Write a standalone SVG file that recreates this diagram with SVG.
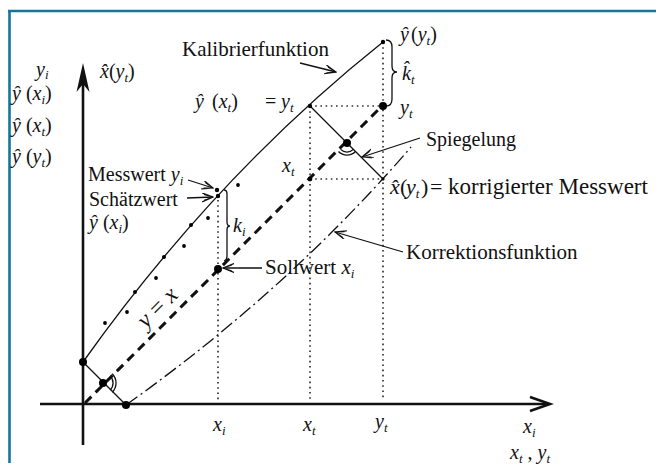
<svg xmlns="http://www.w3.org/2000/svg" width="656" height="473" viewBox="0 0 656 473">
<defs>
<style>
.t{font-family:"Liberation Serif","Times New Roman",serif;font-size:20px;fill:#111}
.m{font-style:italic}
.s{font-size:13px;font-style:italic}
.ax{stroke:#111;stroke-width:2.6;fill:none}
.thin{stroke:#111;stroke-width:1.3;fill:none}
.dot{stroke:#333;stroke-width:1.7;stroke-dasharray:1.6 3.6;fill:none}
.dash{stroke:#111;stroke-width:3;stroke-dasharray:9 6;fill:none}
.dd{stroke:#111;stroke-width:1.3;stroke-dasharray:14 4 2 4;fill:none}
.ann{stroke:#111;stroke-width:1.3;fill:none;marker-end:url(#ah)}
.big{fill:#000}
.sm{fill:#000}
</style>
<marker id="ah" markerWidth="12" markerHeight="10" refX="11" refY="4.5" orient="auto" markerUnits="userSpaceOnUse">
<path d="M0,0 L11,4.5 L0,9 M2,1.5 L11,4.5 L2,7.5" fill="none" stroke="#111" stroke-width="1.2"/>
</marker>
</defs>
<rect width="656" height="473" fill="#fff"/>
<g id="frame">
<line x1="9.5" y1="11" x2="9.5" y2="463" stroke="#13769a" stroke-width="2.6"/>
<line x1="8" y1="11" x2="656" y2="11" stroke="#13769a" stroke-width="2.6"/>
</g>
<g id="axes">
<line class="ax" x1="83" y1="445" x2="83" y2="80"/>
<path d="M83,63 L89.5,92 L83,84 L76.5,92 Z" fill="#111"/>
<line class="ax" x1="40" y1="404" x2="548" y2="404"/>
<polyline class="ax" points="530,397 550,404 530,411"/>
</g>
<g id="connectors">
<line class="dot" x1="218" y1="200" x2="218" y2="400"/>
<line class="dot" x1="310" y1="106" x2="310" y2="400"/>
<line class="dot" x1="383" y1="42" x2="383" y2="400"/>
<line class="dot" x1="310" y1="106" x2="383" y2="106"/>
<line class="dot" x1="310" y1="179" x2="383" y2="179"/>
<line class="dash" x1="85" y1="403" x2="383" y2="105"/>
<path id="kalibrier" class="thin" d="M83,362 Q216,175 383,42"/>
<path id="korrektion" class="dd" d="M126,405 Q289,289 411,147"/>
<line class="thin" x1="83" y1="362" x2="126" y2="405"/>
<line class="thin" x1="310" y1="106" x2="383" y2="179"/>
<path class="thin" d="M353.4,149.4 A9,9 0 0 1 340.6,149.4 M355.5,151.5 A12,12 0 0 1 338.5,151.5"/>
<path class="thin" d="M110.1,375.9 A10,10 0 0 1 110.1,390.1 M112.2,373.8 A13,13 0 0 1 112.2,392.2"/>
<path class="thin" d="M386,40 Q392,40 392,47 L392,66 Q392,72 397,72 Q392,72 392,78 L392,99 Q392,106 386,106"/>
<path class="thin" d="M224,190 Q227,190 227,194 L227,222 Q227,226 230,226 Q227,226 227,230 L227,256 Q227,260 224,261"/>
<line class="ann" x1="300" y1="63" x2="336" y2="72"/>
<line class="ann" x1="188" y1="180" x2="213" y2="188"/>
<line class="ann" x1="187" y1="198" x2="213" y2="197"/>
<line class="ann" x1="262" y1="268" x2="223" y2="268"/>
<line class="ann" x1="420" y1="138" x2="362" y2="157"/>
<line class="ann" x1="403" y1="252" x2="335" y2="232"/>
</g>
<g id="points">
<circle class="big" cx="83" cy="362" r="4"/>
<circle class="big" cx="103" cy="383" r="4"/>
<circle class="big" cx="126" cy="405" r="4"/>
<circle class="big" cx="218" cy="269" r="4"/>
<circle class="big" cx="347" cy="143" r="4"/>
<circle class="big" cx="383" cy="106" r="4"/>
<circle class="sm" cx="310" cy="106" r="2.2"/>
<circle class="sm" cx="383" cy="42" r="2.2"/>
<circle class="sm" cx="310" cy="179" r="2.4"/>
<circle class="sm" cx="383" cy="179" r="1.6"/>
<circle class="sm" cx="217" cy="190" r="2.2"/>
<circle class="sm" cx="218" cy="196" r="2.2"/>
<circle class="sm" cx="105" cy="323" r="1.9"/>
<circle class="sm" cx="127" cy="312" r="1.9"/>
<circle class="sm" cx="135" cy="292" r="2"/>
<circle class="sm" cx="156" cy="278" r="1.9"/>
<circle class="sm" cx="164" cy="257" r="2"/>
<circle class="sm" cx="184" cy="246" r="1.9"/>
<circle class="sm" cx="191" cy="225" r="2"/>
<circle class="sm" cx="208" cy="218" r="1.9"/>
<circle class="sm" cx="238" cy="185" r="1.9"/>
</g>
<g id="labels">
<text class="t m" x="36" y="76">y<tspan class="s" dy="3">i</tspan></text>
<text class="t" x="12" y="100"><tspan class="m">ŷ</tspan> (<tspan class="m">x</tspan><tspan class="s" dy="4">i</tspan><tspan dy="-4">)</tspan></text>
<text class="t" x="12" y="132"><tspan class="m">ŷ</tspan> (<tspan class="m">x</tspan><tspan class="s" dy="4">t</tspan><tspan dy="-4">)</tspan></text>
<text class="t" x="12" y="163"><tspan class="m">ŷ</tspan> (<tspan class="m">y</tspan><tspan class="s" dy="4">t</tspan><tspan dy="-4">)</tspan></text>
<text class="t" x="100" y="78"><tspan class="m">x̂</tspan>(<tspan class="m">y</tspan><tspan class="s" dy="4">t</tspan><tspan dy="-4">)</tspan></text>
<text class="t" x="182" y="56" style="font-size:21px">Kalibrierfunktion</text>
<text class="t" x="195" y="108"><tspan class="m">ŷ</tspan><tspan x="212">(</tspan><tspan class="m">x</tspan><tspan class="s" dy="4">t</tspan><tspan dy="-4">)</tspan><tspan x="265">=</tspan><tspan class="m" x="281">y</tspan><tspan class="s" dy="4">t</tspan></text>
<text class="t" x="400" y="41"><tspan class="m">ŷ</tspan><tspan x="411">(</tspan><tspan class="m">y</tspan><tspan class="s" dy="4">t</tspan><tspan dy="-4">)</tspan></text>
<text class="t" x="402" y="80"><tspan class="m">k̂</tspan><tspan class="s" dy="4">t</tspan></text>
<text class="t m" x="400" y="114">y<tspan class="s" dy="4">t</tspan></text>
<text class="t" x="426" y="146">Spiegelung</text>
<text class="t" x="390" y="194" style="font-size:22px"><tspan class="m">x̂</tspan><tspan x="400">(</tspan><tspan class="m" x="406">y</tspan><tspan class="s" dy="4">t</tspan><tspan dy="-4" x="421">)</tspan><tspan x="430">=</tspan><tspan x="448" style="font-size:23px">korrigierter Messwert</tspan></text>
<text class="t m" x="282" y="172">x<tspan class="s" dy="4">t</tspan></text>
<text class="t" x="88" y="181">Messwert <tspan class="m">y</tspan><tspan class="s" dy="4">i</tspan></text>
<text class="t" x="89" y="206">Schätzwert</text>
<text class="t" x="89" y="229"><tspan class="m">ŷ</tspan> (<tspan class="m">x</tspan><tspan class="s" dy="4">i</tspan><tspan dy="-4">)</tspan></text>
<text class="t m" x="233" y="232">k<tspan class="s" dy="4">i</tspan></text>
<text class="t" x="265" y="274" style="font-size:21px">Sollwert <tspan class="m">x</tspan><tspan class="s" dy="4">i</tspan></text>
<text class="t" x="406" y="259" style="font-size:21px">Korrektionsfunktion</text>
<text class="t" transform="translate(157,307) rotate(-45)" text-anchor="middle" y="8" style="font-size:24px"><tspan class="m">y</tspan> = <tspan class="m">x</tspan></text>
<text class="t m" x="213" y="431">x<tspan class="s" dy="4">i</tspan></text>
<text class="t m" x="303" y="431">x<tspan class="s" dy="4">t</tspan></text>
<text class="t m" x="375" y="428">y<tspan class="s" dy="4">t</tspan></text>
<text class="t m" x="523" y="433">x<tspan class="s" dy="4">i</tspan></text>
<text class="t" x="510" y="459"><tspan class="m">x</tspan><tspan class="s" dy="4">t</tspan><tspan dy="-4"> , </tspan><tspan class="m">y</tspan><tspan class="s" dy="4">t</tspan></text>
</g>
</svg>
